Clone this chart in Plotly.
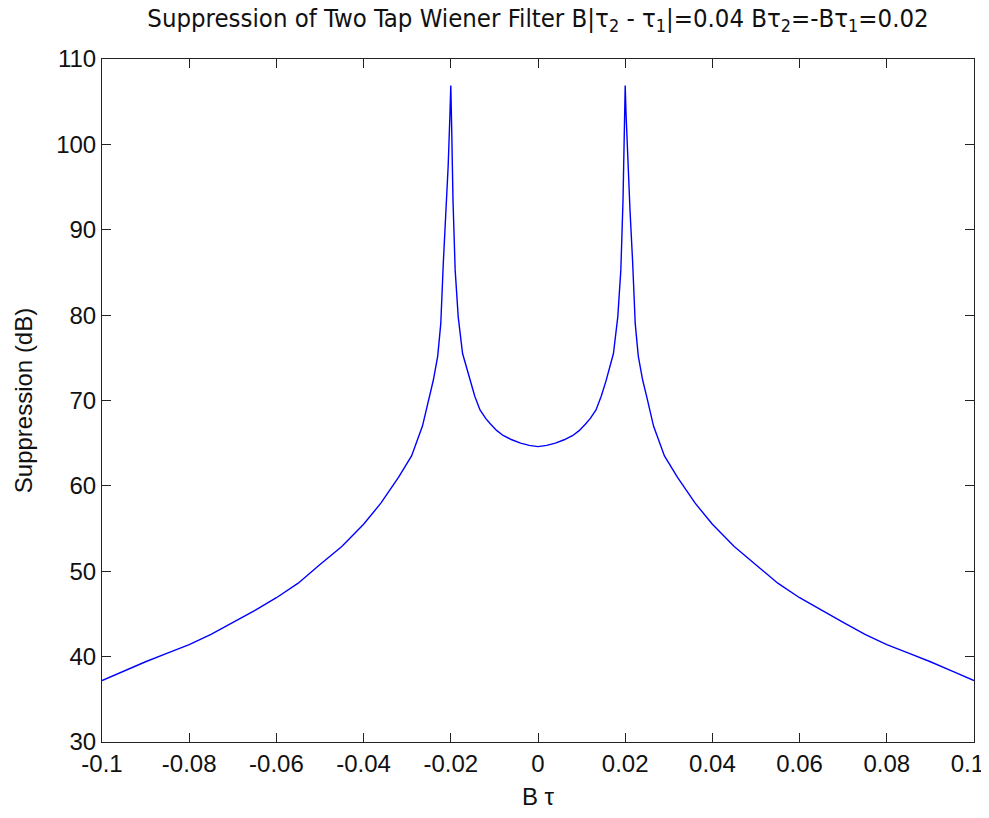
import plotly.graph_objects as go

# Data (B*tau vs suppression in dB)
bt = [-0.1, -0.095, -0.09, -0.085, -0.08, -0.075, -0.07, -0.065, -0.06, -0.055,
      -0.05, -0.045, -0.04, -0.036, -0.032, -0.029, -0.0265, -0.025, -0.024, -0.023,
      -0.0223, -0.0217, -0.0211, -0.0206, -0.0202, -0.0200, -0.0198, -0.0195, -0.019,
      -0.0183, -0.0173, -0.0165, -0.0156, -0.0145, -0.0133, -0.012, -0.011, -0.0095,
      -0.008, -0.006, -0.004, -0.002, 0.0,
      0.002, 0.004, 0.006, 0.008, 0.0095, 0.011, 0.012, 0.0133, 0.0145, 0.0156,
      0.0165, 0.0173, 0.0183, 0.019, 0.0195, 0.0198, 0.0200, 0.0202, 0.0206, 0.0211,
      0.0217, 0.0223, 0.023, 0.024, 0.025, 0.0265, 0.029, 0.032, 0.036, 0.04,
      0.045, 0.05, 0.055, 0.06, 0.065, 0.07, 0.075, 0.08, 0.085, 0.09, 0.095, 0.1]

suppression_db = [37.2, 38.3, 39.4, 40.4, 41.4, 42.6, 44.0, 45.4, 46.9, 48.6,
                  50.8, 52.9, 55.5, 58.0, 61.0, 63.5, 67.0, 70.3, 72.4, 75.2,
                  79.0, 86.3, 92.3, 97.5, 103.5, 106.9, 102.0, 93.5, 85.3,
                  79.8, 75.5, 74.0, 72.3, 70.5, 68.9, 67.9, 67.3, 66.5,
                  65.9, 65.4, 65.0, 64.75, 64.6,
                  64.75, 65.0, 65.4, 65.9, 66.5, 67.3, 67.9, 68.9, 70.5, 72.3,
                  74.0, 75.5, 79.8, 85.3, 93.5, 102.0, 106.9, 103.5, 97.5, 92.3,
                  86.3, 79.0, 75.2, 72.4, 70.3, 67.0, 63.5, 61.0, 58.0, 55.5,
                  52.9, 50.8, 48.6, 46.9, 45.4, 44.0, 42.6, 41.4, 40.4, 39.4, 38.3, 37.2]

x_ticks = [-0.1, -0.08, -0.06, -0.04, -0.02, 0, 0.02, 0.04, 0.06, 0.08, 0.1]
x_tick_labels = ["-0.1", "-0.08", "-0.06", "-0.04", "-0.02", "0", "0.02", "0.04", "0.06", "0.08", "0.1\u00a0\u00a0"]
y_ticks = [30, 40, 50, 60, 70, 80, 90, 100, 110]
y_tick_labels = ["30", "40", "50", "60", "70", "80", "90", "100", "110"]

FONT = "Liberation Sans, Arial, sans-serif"
TITLE_FONT = "DejaVu Sans Condensed, Liberation Sans, sans-serif"
FS = 24

fig = go.Figure()
fig.add_trace(go.Scatter(x=bt, y=suppression_db, mode="lines",
                         line=dict(color="#0000ff", width=1.4), showlegend=False))

axis_common = dict(showline=True, linecolor="#222222", linewidth=1, mirror="ticks",
                   ticks="inside", ticklen=9, tickcolor="#222222", tickwidth=1,
                   showgrid=False, zeroline=False, automargin=False,
                   ticklabeloverflow="allow",
                   tickfont=dict(family=FONT, size=FS, color="#111111"))

fig.update_xaxes(range=[-0.1, 0.1000001], tickvals=x_ticks, ticktext=x_tick_labels,
                 title=dict(text="B τ", font=dict(family=FONT, size=FS, color="#111111"), standoff=12),
                 **axis_common)
fig.update_yaxes(range=[30, 110], tickvals=y_ticks, ticktext=y_tick_labels,
                 title=dict(text="Suppression (dB)", font=dict(family=FONT, size=FS, color="#111111"), standoff=16),
                 **axis_common)

fig.update_layout(
    width=981, height=810,
    margin=dict(l=94, r=15, t=51, b=76),
    paper_bgcolor="white", plot_bgcolor="white",
    title=dict(text="Suppression of Two Tap Wiener Filter B|τ<sub>2</sub> - τ<sub>1</sub>|=0.04 Bτ<sub>2</sub>=-Bτ<sub>1</sub>=0.02",
               x=0.5, xref="paper", y=0.999, yref="container", yanchor="top",
               font=dict(family=TITLE_FONT, size=25.5, color="#111111")),
)

fig.write_html("out.html")
